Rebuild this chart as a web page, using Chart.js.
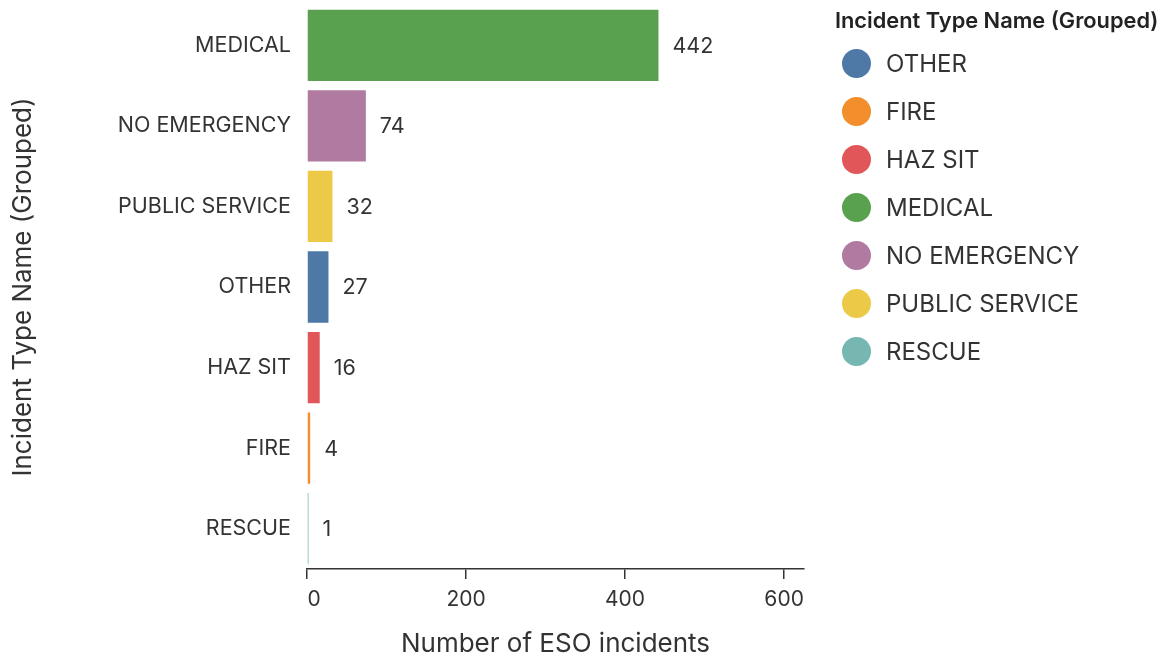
<!DOCTYPE html>
<html>
<head>
<meta charset="utf-8">
<script src="https://cdn.jsdelivr.net/npm/chart.js@4"></script>
<style>
  html, body { margin: 0; padding: 0; background: #fff; }
  #wrap { position: relative; width: 1165px; height: 658px; font-family: Inter, "Noto Sans", sans-serif; color: #333; }
  #legend { position: absolute; left: 835px; top: 5px; }
  #legend .ttl { font-weight: 600; font-size: 21.8px; line-height: 30px; color: #222; white-space: nowrap; }
  #legend .item { position: relative; height: 48px; }
  #legend .dot { position: absolute; left: 7px; top: 14px; width: 29px; height: 29px; border-radius: 50%; }
  #legend .lbl { position: absolute; left: 51px; top: 13px; font-size: 24px; line-height: 31px; white-space: nowrap; }
</style>
</head>
<body>
<div id="wrap">
  <canvas id="c" width="1165" height="658"></canvas>
  <div id="legend"></div>
</div>
<script>
const categories = ["MEDICAL", "NO EMERGENCY", "PUBLIC SERVICE", "OTHER", "HAZ SIT", "FIRE", "RESCUE"];
const counts = [442, 74, 32, 27, 16, 4, 1];
const legendOrder = ["OTHER", "FIRE", "HAZ SIT", "MEDICAL", "NO EMERGENCY", "PUBLIC SERVICE", "RESCUE"];
const xTicks = [0, 200, 400, 600];

const COLORS = {
  "OTHER": "#4e79a7", "FIRE": "#f28e2b", "HAZ SIT": "#e15759", "MEDICAL": "#59a14f",
  "NO EMERGENCY": "#b07aa1", "PUBLIC SERVICE": "#edc948", "RESCUE": "#76b7b2"
};
const FONT = "Inter, 'Noto Sans', sans-serif";

// legend
document.getElementById("legend").innerHTML =
  '<div class="ttl">Incident Type Name (Grouped)</div>' +
  legendOrder.map(n => `<div class="item"><span class="dot" style="background:${COLORS[n]}"></span><span class="lbl">${n}</span></div>`).join("");

// value labels at bar ends
const valueLabels = {
  id: "valueLabels",
  afterDatasetsDraw(chart) {
    const ctx = chart.ctx;
    ctx.save();
    ctx.font = "21.5px " + FONT;
    ctx.fillStyle = "#333";
    ctx.textAlign = "left";
    ctx.textBaseline = "middle";
    chart.getDatasetMeta(0).data.forEach((bar, i) => {
      ctx.fillText(String(counts[i]), bar.x + 14, bar.y + 1);
    });
    ctx.restore();
  }
};

new Chart(document.getElementById("c"), {
  type: "bar",
  data: {
    labels: categories,
    datasets: [{
      data: counts,
      backgroundColor: categories.map(c => COLORS[c]),
      categoryPercentage: 1,
      barPercentage: 0.885,
      minBarLength: 1.5
    }]
  },
  options: {
    indexAxis: "y",
    responsive: false,
    animation: false,
    layout: { padding: { top: 5, right: 361, left: 0, bottom: 0 } },
    plugins: { legend: { display: false }, tooltip: { enabled: false } },
    scales: {
      y: {
        grid: { display: false, drawTicks: false },
        border: { display: false },
        ticks: { color: "#333", font: { family: FONT, size: 21.5 }, padding: 16 },
        title: { display: true, text: "Incident Type Name (Grouped)", color: "#333", font: { family: FONT, size: 26 }, padding: { top: 8 } },
        afterFit: s => { s.width = 307; s.paddingTop = 0; s.paddingBottom = 0; }
      },
      x: {
        min: 0,
        max: 625,
        afterBuildTicks: s => { s.ticks = xTicks.map(v => ({ value: v })); },
        grid: { drawOnChartArea: false, drawTicks: true, tickLength: 10, color: "#333", lineWidth: 1.5 },
        border: { display: true, color: "#333", width: 1.5 },
        ticks: {
          color: "#333", font: { family: FONT, size: 21 }, padding: 8, includeBounds: false,
          // first label sits flush right of its tick
          callback: v => v === 0 ? "\u2002\u2009" + v : String(v)
        },
        title: { display: true, text: "Number of ESO incidents", color: "#333", font: { family: FONT, size: 26, lineHeight: 1.1 }, padding: { bottom: 0 } },
        afterFit: s => { s.height = 89; s.paddingLeft = 0; s.paddingRight = 0; }
      }
    }
  },
  plugins: [valueLabels]
});
</script>
</body>
</html>
